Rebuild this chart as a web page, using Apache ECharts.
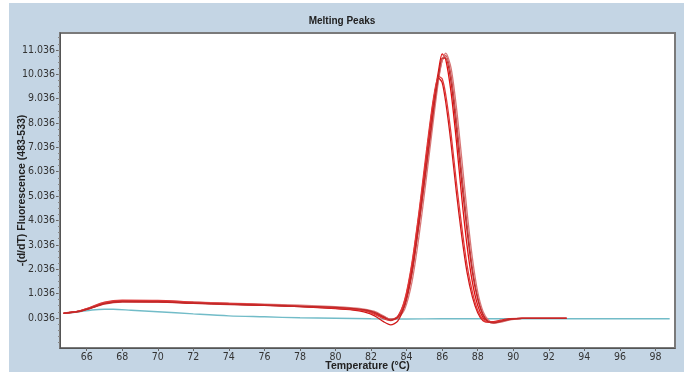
<!DOCTYPE html>
<html>
<head>
<meta charset="utf-8">
<script src="https://cdn.jsdelivr.net/npm/echarts@6/dist/echarts.min.js"></script>
<style>
    html, body {margin: 0; padding: 0; background: #fff;}
    #panel {position: absolute; left: 9px; top: 3px; width: 675px; height: 369px; background: #c4d5e4;}
    #chart {position: absolute; left: 0; top: 0; width: 684px; height: 375px;}
</style>
</head>
<body>
<div id="panel"></div>
<div id="chart"></div>
<script>
// tick labels
const xTicks = [66, 68, 70, 72, 74, 76, 78, 80, 82, 84, 86, 88, 90, 92, 94, 96, 98];
const yTicks = [0.036, 1.036, 2.036, 3.036, 4.036, 5.036, 6.036, 7.036, 8.036, 9.036, 10.036, 11.036];

// temperatures shared by the red sample curves
const sampleTemps = [64.7, 65.5, 66.2, 67, 68, 70, 72, 74, 76, 78, 80, 81, 81.6, 82.2, 82.7, 83.1, 83.5,
    83.9, 84.3, 84.7, 85.1, 85.5, 85.8, 86.0, 86.2, 86.5, 86.8, 87.1, 87.4, 87.7, 88.0, 88.3, 88.6,
    88.9, 89.3, 89.8, 90.5, 93];

const sample1 = [0.22, 0.3, 0.45, 0.64, 0.72, 0.72, 0.66, 0.62, 0.57, 0.52, 0.46, 0.41, 0.35, 0.22, 0.05, -0.04, 0.1,
    0.75, 2.2, 4.3, 6.6, 8.8, 10.2, 10.87, 10.65, 9.3, 7.3, 5.0, 3.0, 1.5, 0.55, 0.05, -0.12,
    -0.15, -0.1, -0.02, 0.02, 0.02];
const sample2 = [0.22, 0.28, 0.42, 0.6, 0.68, 0.68, 0.63, 0.58, 0.55, 0.5, 0.43, 0.38, 0.34, 0.25, 0.1, -0.02, 0.05,
    0.6, 1.9, 3.9, 6.1, 8.4, 9.9, 10.6, 10.8, 10.0, 8.2, 6.0, 3.9, 2.1, 0.9, 0.2, -0.1,
    -0.17, -0.12, -0.03, 0.02, 0.02];
const sample3 = [0.22, 0.3, 0.46, 0.66, 0.74, 0.74, 0.69, 0.64, 0.6, 0.56, 0.5, 0.45, 0.4, 0.3, 0.12, -0.02, 0.02,
    0.4, 1.5, 3.4, 5.7, 8.1, 9.8, 10.6, 10.9, 10.3, 8.7, 6.6, 4.4, 2.5, 1.1, 0.3, -0.05,
    -0.18, -0.14, -0.05, 0.02, 0.02];
const sample4 = [0.22, 0.29, 0.43, 0.62, 0.7, 0.69, 0.64, 0.6, 0.55, 0.5, 0.42, 0.36, 0.28, 0.12, -0.12, -0.25, -0.1,
    0.6, 2.0, 4.1, 6.6, 8.9, 9.88, 9.7, 8.9, 7.2, 5.2, 3.4, 1.9, 0.9, 0.25, -0.08, -0.14,
    -0.12, -0.06, 0.0, 0.02, 0.02];
const sample5 = [0.23, 0.31, 0.47, 0.68, 0.76, 0.75, 0.68, 0.63, 0.58, 0.52, 0.45, 0.4, 0.33, 0.18, 0.0, -0.08, 0.08,
    0.8, 2.3, 4.4, 6.8, 9.0, 9.95, 9.85, 9.2, 7.6, 5.6, 3.8, 2.2, 1.1, 0.35, -0.04, -0.15,
    -0.14, -0.08, -0.01, 0.02, 0.02];
const sample6 = [0.22, 0.3, 0.44, 0.63, 0.71, 0.7, 0.65, 0.6, 0.56, 0.51, 0.47, 0.42, 0.37, 0.26, 0.08, -0.05, 0.05,
    0.55, 1.85, 3.9, 6.2, 8.5, 10.0, 10.7, 10.7, 9.7, 7.8, 5.6, 3.6, 1.9, 0.8, 0.15, -0.12,
    -0.17, -0.11, -0.02, 0.02, 0.02];

// negative control (cyan)
const controlTemps = [64.7, 65.5, 66.3, 67.0, 67.5, 68.5, 70, 72, 74, 76, 78, 80, 82, 84, 86, 88, 90, 94, 98.8];
const controlVals = [0.22, 0.28, 0.36, 0.39, 0.39, 0.35, 0.29, 0.2, 0.12, 0.08, 0.04, 0.02, 0.0, -0.01, 0.0, 0.0, 0.0, 0.0, 0.0];

const samples = [sample1, sample2, sample3, sample4, sample5, sample6];
const sampleColors = ['#e01010', '#c85050', '#d87878', '#d01818', '#e03a3a', '#c02828'];

const yMinor = [];
for (let v = -1.214; v < 11.73; v += 0.25) {
    yMinor.push(+v.toFixed(3));
}

const labelFont = 'DejaVu Sans Condensed, Liberation Sans Narrow, Arial Narrow, sans-serif';
const boldFont = 'Liberation Sans, Arial, sans-serif';

function pairs(xs, ys) {
    return xs.map((x, i) => [x, ys[i]]);
}

const series = samples.map((vals, i) => ({
    type: 'line',
    data: pairs(sampleTemps, vals),
    smooth: 0.25,
    symbol: 'none',
    lineStyle: {color: sampleColors[i], width: 1.3},
    z: 3 + i
}));
series.unshift({
    type: 'line',
    data: pairs(controlTemps, controlVals),
    smooth: 0.3,
    symbol: 'none',
    lineStyle: {color: '#72bcc8', width: 1.4},
    z: 2
});

const chart = echarts.init(document.getElementById('chart'));
chart.setOption({
    animation: false,
    backgroundColor: 'transparent',
    title: {
        text: 'Melting Peaks',
        left: 'center',
        top: 11,
        textStyle: {fontSize: 10, fontWeight: 'bold', color: '#222', fontFamily: boldFont}
    },
    grid: {
        left: 60, top: 33, right: 9, bottom: 27,
        outerBoundsMode: 'none',
        containLabel: false,
        show: true,
        backgroundColor: '#fff',
        borderColor: '#7a7a7a',
        borderWidth: 2
    },
    xAxis: {
        type: 'value',
        min: 64.5,
        max: 99.1,
        name: 'Temperature (°C)',
        nameLocation: 'middle',
        nameGap: 13,
        nameMoveOverlap: false,
        nameTextStyle: {fontSize: 10.5, fontWeight: 'bold', color: '#222', fontFamily: boldFont},
        axisLine: {show: true, onZero: false, lineStyle: {color: '#555', width: 1}},
        axisTick: {show: true, length: 3, customValues: xTicks, lineStyle: {color: '#666'}},
        axisLabel: {
            customValues: xTicks,
            fontSize: 10.5, color: '#333', margin: 4, fontFamily: labelFont
        },
        splitLine: {show: false}
    },
    yAxis: [{
        type: 'value',
        min: -1.2,
        max: 11.73,
        name: '-(d/dT) Fluorescence (483-533)',
        nameLocation: 'middle',
        nameGap: 32,
        nameMoveOverlap: false,
        nameTextStyle: {fontSize: 10.5, fontWeight: 'bold', color: '#222', fontFamily: boldFont},
        axisLine: {show: true, onZero: false, lineStyle: {color: '#555', width: 1}},
        axisTick: {show: true, length: 4, customValues: yTicks, lineStyle: {color: '#666'}},
        axisLabel: {
            customValues: yTicks,
            formatter: (v) => v.toFixed(3),
            fontSize: 10.5, color: '#333', margin: 5, fontFamily: labelFont
        },
        splitLine: {show: false}
    }, {
        type: 'value',
        min: -1.2,
        max: 11.73,
        position: 'left',
        axisLine: {show: false, onZero: false},
        axisTick: {show: true, length: 2, customValues: yMinor, lineStyle: {color: '#888'}},
        axisLabel: {show: false},
        splitLine: {show: false}
    }],
    series: series
});
</script>
</body>
</html>
